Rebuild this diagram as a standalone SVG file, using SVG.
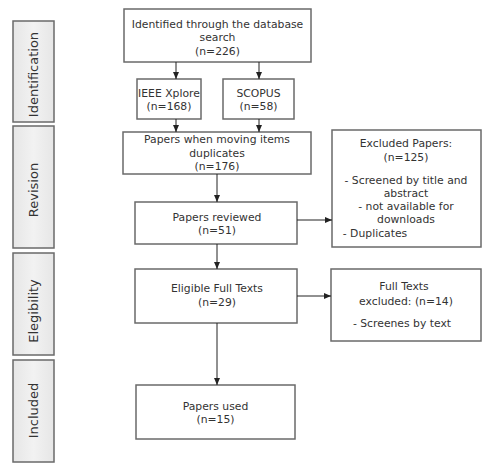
<svg xmlns="http://www.w3.org/2000/svg" width="486" height="466" viewBox="0 0 486 466">
<defs>
<linearGradient id="sideg" x1="0" y1="0" x2="1" y2="0">
<stop offset="0" stop-color="#e6e6e6"/><stop offset="0.5" stop-color="#f2f2f2"/><stop offset="1" stop-color="#e6e6e6"/>
</linearGradient>
<marker id="ah" markerWidth="8" markerHeight="8" refX="7" refY="4" orient="auto" markerUnits="userSpaceOnUse">
<path d="M0,1 L7,4 L0,7 Z" fill="#222"/>
</marker>
</defs>
<style>
.box{fill:#fff;stroke:#6a6a6a;stroke-width:1.5}
.side{fill:url(#sideg);stroke:#6a6a6a;stroke-width:1.5}
text{font-family:"DejaVu Sans",Verdana,sans-serif;font-size:10.8px;fill:#333;text-anchor:middle}
.sl{font-size:13px}
.c{stroke:#222;stroke-width:1;fill:none;marker-end:url(#ah)}
</style>
<rect width="486" height="466" fill="#fff"/>
<g id="phase-identification"><rect class="side" x="13" y="21" width="41" height="101"/><text class="sl" transform="translate(38,74.5) rotate(-90)">Identification</text></g>
<g id="phase-revision"><rect class="side" x="13" y="126" width="41" height="122"/><text class="sl" transform="translate(38,190) rotate(-90)">Revision</text></g>
<g id="phase-elegibility"><rect class="side" x="13" y="253" width="41" height="102"/><text class="sl" transform="translate(38,311) rotate(-90)">Elegibility</text></g>
<g id="phase-included"><rect class="side" x="13" y="360" width="41" height="102"/><text class="sl" transform="translate(38,410.5) rotate(-90)">Included</text></g>

<g id="identified"><rect class="box" x="124" y="9" width="187" height="53"/>
<text x="217.5" y="28">Identified through the database</text><text x="217.5" y="41">search</text><text x="217.5" y="55">(n=226)</text></g>
<g id="ieee"><rect class="box" x="137" y="79" width="64" height="40"/><text x="169" y="97">IEEE Xplore</text><text x="169" y="110">(n=168)</text></g>
<g id="scopus"><rect class="box" x="223" y="79" width="71" height="40"/><text x="258.5" y="97">SCOPUS</text><text x="258.5" y="110">(n=58)</text></g>
<g id="dedup"><rect class="box" x="123" y="132" width="188" height="42"/>
<text x="217" y="143">Papers when moving items</text><text x="217" y="157">duplicates</text><text x="217" y="170">(n=176)</text></g>
<g id="reviewed"><rect class="box" x="135" y="202" width="162" height="42"/><text x="217" y="221">Papers reviewed</text><text x="217" y="234">(n=51)</text></g>
<g id="excluded"><rect class="box" x="332" y="130" width="149" height="117"/>
<text x="406" y="147">Excluded Papers:</text><text x="406" y="161">(n=125)</text>
<text x="406" y="184">- Screened by title and</text><text x="406" y="197">abstract</text>
<text x="406" y="210">- not available for</text><text x="406" y="223">downloads</text>
<text x="375" y="237">- Duplicates</text></g>
<g id="eligible"><rect class="box" x="135" y="269" width="162" height="54"/><text x="217" y="292">Eligible Full Texts</text><text x="217" y="306">(n=29)</text></g>
<g id="fulltext-excluded"><rect class="box" x="331" y="269" width="150" height="72"/>
<text x="404" y="290">Full Texts</text><text x="406" y="305">excluded: (n=14)</text><text x="402" y="327">- Screenes by text</text></g>
<g id="used"><rect class="box" x="136" y="385" width="159" height="54"/><text x="215.5" y="410">Papers used</text><text x="215.5" y="423">(n=15)</text></g>

<g id="connectors">
<line class="c" x1="176" y1="62" x2="176" y2="79"/>
<line class="c" x1="259" y1="62" x2="259" y2="79"/>
<line class="c" x1="176" y1="119" x2="176" y2="132"/>
<line class="c" x1="259" y1="119" x2="259" y2="132"/>
<line class="c" x1="217" y1="174" x2="217" y2="202"/>
<line class="c" x1="297" y1="220" x2="332" y2="220"/>
<line class="c" x1="217" y1="244" x2="217" y2="269"/>
<line class="c" x1="297" y1="296" x2="331" y2="296"/>
<line class="c" x1="217" y1="323" x2="217" y2="385"/>
</g>
</svg>
